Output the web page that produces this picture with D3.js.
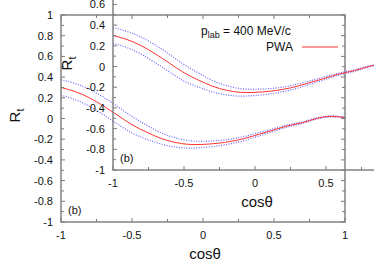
<!DOCTYPE html>
<html>
<head>
<meta charset="utf-8">
<script src="https://cdn.jsdelivr.net/npm/d3@7"></script>
<style>
  body { margin: 0; background: #fff; }
  svg { display: block; font-family: "Liberation Sans", Arial, sans-serif; }
  .tick-label { font-size: 11px; fill: #111; }
  .axis-title { font-size: 15px; fill: #111; }
</style>
</head>
<body>
<div id="chart"></div>
<script>
// cos(theta) grid and PWA values
const cosValues = [-1.0, -0.9, -0.8, -0.7, -0.6, -0.5, -0.4, -0.3, -0.2, -0.1, 0.0,
    0.1, 0.2, 0.3, 0.4, 0.5, 0.6, 0.7, 0.8, 0.9, 1.0];
const pwaValues = [0.30, 0.26, 0.20, 0.12, 0.03, -0.06, -0.13, -0.19, -0.23, -0.25, -0.25,
    -0.24, -0.22, -0.19, -0.15, -0.11, -0.07, -0.04, 0.00, 0.02, 0.01];
const upperValues = [0.375, 0.338, 0.282, 0.205, 0.115, 0.02, -0.062, -0.135, -0.185, -0.214, -0.22,
    -0.214, -0.198, -0.17, -0.134, -0.097, -0.06, -0.032, 0.006, 0.025, 0.014];
const lowerValues = [0.225, 0.182, 0.118, 0.035, -0.055, -0.14, -0.198, -0.245, -0.275, -0.286, -0.28,
    -0.266, -0.242, -0.21, -0.166, -0.123, -0.08, -0.048, -0.006, 0.015, 0.006];

const xTicks = [-1, -0.5, 0, 0.5, 1];
const xMinorTicks = [-0.75, -0.25, 0.25, 0.75];
const yTicks = [-1, -0.8, -0.6, -0.4, -0.2, 0, 0.2, 0.4, 0.6, 0.8, 1];
const yMinorTicks = [-0.9, -0.7, -0.5, -0.3, -0.1, 0.1, 0.3, 0.5, 0.7, 0.9];

const width = 374;
const height = 262;
const plotWidth = 284;
const plotHeight = 207;
const frameColor = "#7a7a7a";

const svg = d3.select("#chart")
    .append("svg")
    .attr("width", width)
    .attr("height", height);

const drawPanel = (left, top, showKey) => {
    const g = svg.append("g").attr("transform", `translate(${left},${top})`);

    const x = d3.scaleLinear().domain([-1, 1]).range([0, plotWidth]);
    const y = d3.scaleLinear().domain([-1, 1]).range([plotHeight, 0]);

    const line = vals => d3.line()
        .x((d, i) => x(cosValues[i]))
        .y(d => y(d))
        .curve(d3.curveNatural)(vals);

    [upperValues, lowerValues].forEach(vals => {
        g.append("path")
            .attr("d", line(vals))
            .attr("fill", "none")
            .attr("stroke", "#6666ff")
            .attr("stroke-width", 1.2)
            .attr("stroke-dasharray", "1,1.5");
    });

    g.append("path")
        .attr("d", line(pwaValues))
        .attr("fill", "none")
        .attr("stroke", "#ff3333")
        .attr("stroke-width", 1);

    // frame
    g.append("rect")
        .attr("x", 0)
        .attr("y", 0)
        .attr("width", plotWidth)
        .attr("height", plotHeight)
        .attr("fill", "none")
        .attr("stroke", frameColor)
        .attr("stroke-width", 1.4);

    const addTick = (x1, y1, x2, y2) => {
        g.append("line")
            .attr("x1", x1).attr("y1", y1)
            .attr("x2", x2).attr("y2", y2)
            .attr("stroke", frameColor)
            .attr("stroke-width", 1);
    };

    xTicks.concat(xMinorTicks).forEach(t => {
        const len = xTicks.includes(t) ? 4 : 3;
        addTick(x(t), plotHeight, x(t), plotHeight - len);
        addTick(x(t), 0, x(t), len);
    });
    yTicks.concat(yMinorTicks).forEach(t => {
        const len = yTicks.includes(t) ? 4 : 3;
        addTick(0, y(t), len, y(t));
        addTick(plotWidth, y(t), plotWidth - len, y(t));
    });

    xTicks.forEach(t => {
        g.append("text")
            .attr("class", "tick-label")
            .attr("x", x(t))
            .attr("y", plotHeight + 17)
            .attr("text-anchor", "middle")
            .text(t);
    });
    yTicks.forEach(t => {
        g.append("text")
            .attr("class", "tick-label")
            .attr("x", -8)
            .attr("y", y(t) + 4)
            .attr("text-anchor", "end")
            .text(t);
    });

    g.append("text")
        .attr("class", "axis-title")
        .attr("x", x(0) + 2)
        .attr("y", plotHeight + 37)
        .attr("text-anchor", "middle")
        .text("cosθ");

    const rt = g.append("text")
        .attr("class", "axis-title")
        .attr("transform", `translate(${-41},${y(0) - 3}) rotate(-90)`)
        .attr("text-anchor", "middle");
    rt.append("tspan").text("R");
    rt.append("tspan").attr("font-size", 11).attr("dy", 4).text("t");

    g.append("text")
        .attr("class", "tick-label")
        .attr("font-size", 12)
        .attr("x", 7)
        .attr("y", plotHeight - 8)
        .text("(b)");

    if (showKey) {
        const p = g.append("text")
            .attr("font-size", 12)
            .attr("fill", "#111")
            .attr("x", 88)
            .attr("y", 72);
        p.append("tspan").text("p");
        p.append("tspan").attr("font-size", 9).attr("dy", 3).text("lab");
        p.append("tspan").attr("dy", -3).text(" = 400 MeV/c");

        g.append("text")
            .attr("font-size", 12)
            .attr("fill", "#111")
            .attr("x", 180)
            .attr("y", 88)
            .attr("text-anchor", "end")
            .text("PWA");
        g.append("line")
            .attr("x1", 189).attr("y1", 84)
            .attr("x2", 225).attr("y2", 84)
            .attr("stroke", "#ff3333")
            .attr("stroke-width", 1);
    }
};

drawPanel(61, 15, false);
drawPanel(113, -37, true);
</script>
</body>
</html>
